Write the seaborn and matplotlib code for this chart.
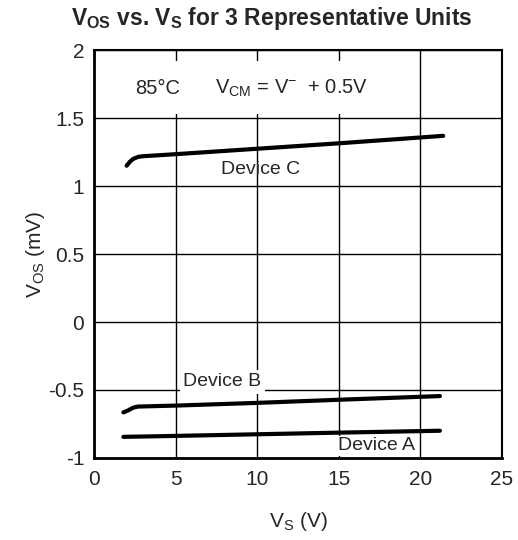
import matplotlib
matplotlib.use('Agg')
import matplotlib.pyplot as plt
import numpy as np
import pandas as pd
import seaborn as sns

# кривые (85°C, Vcm = V- + 0.5V)
vs_c = [2.0, 2.2, 2.4, 2.7, 3.0, 5, 10, 15, 21.4]
vos_c = [1.15, 1.18, 1.20, 1.215, 1.22, 1.235, 1.275, 1.315, 1.37]
vs_b = [1.8, 2.1, 2.4, 2.7, 5, 10, 15, 21.2]
vos_b = [-0.665, -0.65, -0.63, -0.622, -0.615, -0.595, -0.572, -0.545]
vs_a = [1.8, 5, 10, 15, 21.2]
vos_a = [-0.845, -0.838, -0.826, -0.814, -0.80]
devices = ['Device C', 'Device B', 'Device A']

df = pd.concat([
    pd.DataFrame({'vs': vs_c, 'vos': vos_c, 'dev': devices[0]}),
    pd.DataFrame({'vs': vs_b, 'vos': vos_b, 'dev': devices[1]}),
    pd.DataFrame({'vs': vs_a, 'vos': vos_a, 'dev': devices[2]}),
])

sns.set_style('white')
plt.rcParams['font.family'] = ['Liberation Sans', 'DejaVu Sans']
plt.rcParams['mathtext.default'] = 'regular'

fig = plt.figure(figsize=(5.18, 5.4), dpi=100)
ax = fig.add_axes([0.1815, 0.152, 0.7875, 0.755])
sns.lineplot(data=df, x='vs', y='vos', hue='dev', palette=['black'] * 3,
             linewidth=3, legend=False, ax=ax, sort=False, estimator=None)

ax.set_xlim(0, 25)
ax.set_ylim(-1, 2)
ax.set_xticks(np.arange(0, 26, 5))
ax.set_yticks(np.arange(-1, 2.01, 0.5))
ax.set_yticklabels(['-1', '-0.5', '0', '0.5', '1', '1.5', '2'])
ax.grid(True, color='black', linewidth=1)
ax.tick_params(labelsize=15, length=0)
ax.tick_params(axis='x', pad=9)
ax.tick_params(axis='y', pad=7)
for s in ax.spines.values():
    s.set_color('black')
    s.set_linewidth(1.5)
ax.spines['left'].set_linewidth(2)
ax.spines['bottom'].set_linewidth(2)

# белая подложка под подписью условий (закрывает сетку)
ax.axhspan(1.53, 1.92, xmin=0, xmax=0.79, color='white', zorder=1, lw=0)

ax.set_xlabel('V$_S$ (V)', fontsize=15, labelpad=15)
ax.set_ylabel('V$_{OS}$ (mV)', fontsize=15, labelpad=1)
fig.suptitle('V$_{OS}$ vs. V$_S$ for 3 Representative Units', x=0.525, y=0.99,
             fontsize=16.5, fontweight='bold')

ax.text(2.5, 1.72, '85°C', fontsize=14.5, ha='left', va='center', zorder=3)
ax.text(7.4, 1.72, 'V$_{CM}$ = V$^{-}$  + 0.5V', fontsize=14.5,
        ha='left', va='center', zorder=3)
ax.text(10.2, 1.12, devices[0], fontsize=14, ha='center', va='center')
ax.text(7.85, -0.44, devices[1], fontsize=14, ha='center', va='center',
        bbox=dict(facecolor='white', edgecolor='none', pad=2.5))
ax.text(17.3, -0.91, devices[2], fontsize=14, ha='center', va='center',
        bbox=dict(facecolor='white', edgecolor='none', pad=1))

fig.savefig('out.png', dpi=100)
